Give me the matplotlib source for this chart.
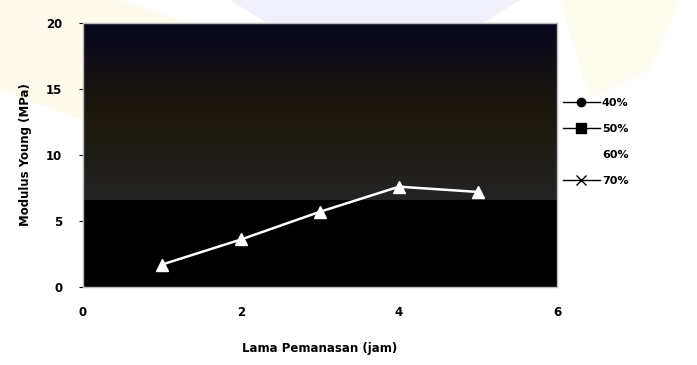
import matplotlib
matplotlib.use("Agg")
import matplotlib.pyplot as plt
import numpy as np
from matplotlib.lines import Line2D
from matplotlib.patches import Polygon

# Heating time (hours) and Young's modulus (MPa) for the 60% series
lama_pemanasan = [1, 2, 3, 4, 5]
modulus_60 = [1.7, 3.6, 5.7, 7.6, 7.2]

series_labels = ["40%", "50%", "60%", "70%"]
x_ticks = [0, 2, 4, 6]
y_ticks = [0, 5, 10, 15, 20]

fig = plt.figure(figsize=(6.97, 3.65), dpi=100)
fig.patch.set_facecolor("white")

# faint background emblem tones
bg = fig.add_axes([0, 0, 1, 1], zorder=-10)
bg.set_xlim(0, 697)
bg.set_ylim(365, 0)
bg.axis("off")
bg.add_patch(Polygon([[0, 0], [120, 0], [300, 60], [110, 130], [0, 90]],
                     closed=True, color="#fef8e0", alpha=0.6, lw=0))
bg.add_patch(Polygon([[230, 0], [520, 0], [480, 25], [270, 25]],
                     closed=True, color="#ececfa", alpha=0.7, lw=0))
bg.add_patch(Polygon([[560, 0], [680, 0], [650, 70], [590, 100]],
                     closed=True, color="#fef8e0", alpha=0.5, lw=0))

ax = fig.add_axes([83 / 697, 1 - 287 / 365, 474 / 697, 264 / 365])
ax.set_xlim(0, 6)
ax.set_ylim(0, 20)
ax.set_facecolor("black")

# darker tinted upper band of the plot area (vertical colour ramp)
t = np.linspace(0, 1, 64)
top_col = np.array([0.03, 0.03, 0.12])
mid_col = np.array([0.11, 0.09, 0.04])
bot_col = np.array([0.14, 0.14, 0.14])
ramp = np.where(t[:, None] < 0.5,
                top_col + (mid_col - top_col) * (t[:, None] / 0.5),
                mid_col + (bot_col - mid_col) * ((t[:, None] - 0.5) / 0.5))
ax.imshow(ramp[:, None, :], extent=[0, 6, 6.6, 20], aspect="auto",
          origin="upper", zorder=0)

ax.plot(lama_pemanasan, modulus_60, color="white", lw=1.8, marker="^",
        markersize=8, markerfacecolor="white", markeredgecolor="white", zorder=3)

for s in ax.spines.values():
    s.set_color("#bbbbbb")
    s.set_linewidth(1.0)

ax.set_xticks(x_ticks)
ax.set_yticks(y_ticks)
ax.tick_params(axis="x", length=0, pad=14, labelsize=8.5)
ax.tick_params(axis="y", length=3, pad=12, labelsize=8.5, color="black")
for lab in ax.get_xticklabels() + ax.get_yticklabels():
    lab.set_fontweight("bold")

ax.set_xlabel("Lama Pemanasan (jam)", fontsize=8.5, fontweight="bold", labelpad=16)
ax.set_ylabel("Modulus Young (MPa)", fontsize=8.5, fontweight="bold", labelpad=10)

handles = [
    Line2D([], [], color="black", lw=1, marker="o", markersize=6),
    Line2D([], [], color="black", lw=1, marker="s", markersize=7),
    Line2D([], [], color="white", lw=1, marker="^", markersize=6),
    Line2D([], [], color="black", lw=1, marker="x", markersize=7),
]
leg = fig.legend(handles, series_labels, loc="upper left",
                 bbox_to_anchor=(553 / 697, 1 - 88 / 365), frameon=False,
                 fontsize=8, handlelength=3.3, handletextpad=0.2,
                 labelspacing=1.45)
for txt in leg.get_texts():
    txt.set_fontweight("bold")

fig.savefig("out.png", dpi=100, facecolor="white")
